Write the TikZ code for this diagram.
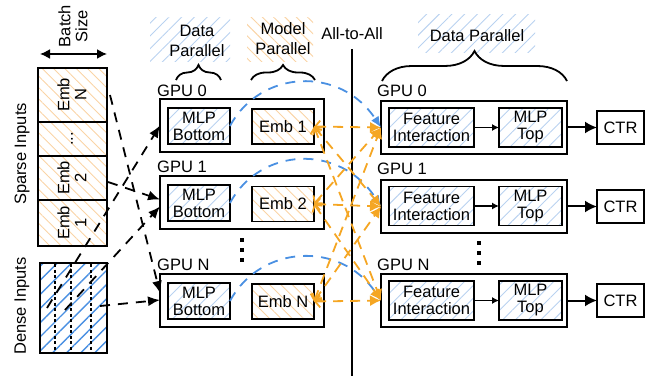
\documentclass[tikz,border=0pt]{standalone}
\usepackage{fontspec}
\setmainfont{Liberation Sans}
\usetikzlibrary{arrows.meta,patterns.meta,decorations.pathreplacing,calc}
\definecolor{hblue}{RGB}{185,210,240}
\definecolor{cblue}{RGB}{74,144,226}
\definecolor{horange}{RGB}{250,212,165}
\definecolor{corange}{RGB}{245,166,35}
\tikzset{
  box/.style={draw, line width=2pt, inner sep=0pt, outer sep=0pt},
  ibox/.style={draw, line width=1.7pt, inner sep=0pt, outer sep=0pt, align=center},
  bhatch/.style={pattern={Lines[angle=45,distance=9pt,line width=0.9pt]}, pattern color=hblue},
  ohatch/.style={pattern={Lines[angle=-45,distance=8pt,line width=0.9pt]}, pattern color=horange},
  dhatch/.style={pattern={Lines[angle=45,distance=10pt,line width=1.4pt]}, pattern color=cblue},
  lbl/.style={inner sep=0pt, anchor=base west},
  txt/.style={inner sep=0pt, align=center},
  kdash/.style={line width=1.8pt, dash pattern=on 10pt off 8pt, -{Latex[length=12pt,width=10pt]}},
  bdash/.style={cblue, line width=1.8pt, dash pattern=on 10pt off 8pt, -{Latex[length=11pt,width=9pt]}},
  odash/.style={corange, line width=1.8pt, dash pattern=on 10pt off 7pt, {Straight Barb[length=5pt,width=12pt]}-{Latex[length=11pt,width=11pt]}},
  brc/.style={line width=1.8pt, decorate},
}
\begin{document}
\begin{tikzpicture}[x=1pt,y=-1pt,font=\fontsize{16.5}{17}\selectfont]
\useasboundingbox (0,0) rectangle (651,377);

% hatched label backgrounds
\path[bhatch] (150,18) rectangle (230,62);
\path[ohatch] (247,18) rectangle (313,62);
\path[bhatch] (418,15) rectangle (535,53);

% top labels
\node[txt, font=\fontsize{16.5}{20}\selectfont] (dpL) at (197,41) {Data\\Parallel};
\node[txt, font=\fontsize{16.5}{20}\selectfont] (mpL) at (283,39) {Model\\Parallel};
\node[txt] (dpR) at (477,36) {Data Parallel};
\node[txt] (a2a) at (352,34) {All-to-All};

% braces
\draw[brc, decoration={brace, amplitude=15pt}] (176,80) -- (221,80);
\draw[brc, decoration={brace, amplitude=15pt}] (251,80) -- (315,80);
\draw[brc, decoration={brace, amplitude=30pt}] (382,81) -- (567,81);

% all-to-all divider
\coordinate (divT) at (352,49);
\coordinate (divB) at (352,376);
\draw[line width=1.6pt] (divT) -- (divB);

% batch size
\node[txt, rotate=90] (bs) at (73,26) {Batch\\Size};
\coordinate (bsL) at (40,54);
\coordinate (bsR) at (107,54);
\draw[line width=1.6pt, {Latex[length=10pt,width=10pt]}-{Latex[length=10pt,width=10pt]}] (bsL) -- (bsR);

% sparse inputs
\node[box, ohatch, minimum width=69pt, minimum height=54pt] (cN) at (72.5,95) {};
\node[box, ohatch, minimum width=69pt, minimum height=34pt] (cD) at (72.5,139) {};
\node[box, ohatch, minimum width=69pt, minimum height=44pt] (c2) at (72.5,178) {};
\node[box, ohatch, minimum width=69pt, minimum height=46pt] (c1) at (72.5,223) {};
\node[txt, rotate=90] (tN) at (72,95) {Emb\\N};
\node[txt, rotate=90] (tD) at (72,139) {...};
\node[txt, rotate=90] (t2) at (72,178) {Emb\\2};
\node[txt, rotate=90] (t1) at (72,223) {Emb\\1};
\node[txt, rotate=90] (sparse) at (22,154) {Sparse Inputs};

% dense inputs
\node[box, dhatch, minimum width=67pt, minimum height=90pt] (dense) at (73.5,308) {};
\foreach \xx in {55,71,91}
  \draw[line width=1.5pt, dash pattern=on 3pt off 2.5pt] (\xx,264) -- (\xx,352);
\node[txt, rotate=90] (denseL) at (22,306) {Dense Inputs};

% left GPUs
\node[box, minimum width=164pt, minimum height=53pt] (gL0) at (242,125.5) {};
\node[box, minimum width=164pt, minimum height=53pt] (gL1) at (242,202.5) {};
\node[box, minimum width=164pt, minimum height=53pt] (gLN) at (242,300) {};
\node[lbl] (lL0) at (157,97) {GPU 0};
\node[lbl] (lL1) at (157,173) {GPU 1};
\node[lbl] (lLN) at (157,270) {GPU N};
\node[ibox, bhatch, minimum width=62pt, minimum height=36pt] (mb0) at (199,126) {MLP\\Bottom};
\node[ibox, bhatch, minimum width=62pt, minimum height=36pt] (mb1) at (199,203) {MLP\\Bottom};
\node[ibox, bhatch, minimum width=62pt, minimum height=36pt] (mbN) at (199,301) {MLP\\Bottom};
\node[ibox, ohatch, minimum width=62pt, minimum height=35pt] (e1) at (283,126.5) {Emb 1};
\node[ibox, ohatch, minimum width=62pt, minimum height=35pt] (e2) at (283,204) {Emb 2};
\node[ibox, ohatch, minimum width=62pt, minimum height=35pt] (eN) at (283,301.5) {Emb N};
\foreach \yy in {240,250,260} \fill (240,\yy-2) rectangle (244,\yy+2);

% right GPUs
\node[box, minimum width=186pt, minimum height=53pt] (gR0) at (474,127.5) {};
\node[box, minimum width=186pt, minimum height=53pt] (gR1) at (474,206.5) {};
\node[box, minimum width=186pt, minimum height=53pt] (gRN) at (474,300.5) {};
\node[lbl] (lR0) at (377,97) {GPU 0};
\node[lbl] (lR1) at (377,175) {GPU 1};
\node[lbl] (lRN) at (377,270) {GPU N};
\node[ibox, bhatch, minimum width=85pt, minimum height=39pt] (fi0) at (431.5,127.5) {Feature\\Interaction};
\node[ibox, bhatch, minimum width=85pt, minimum height=39pt] (fi1) at (431.5,206) {Feature\\Interaction};
\node[ibox, bhatch, minimum width=85pt, minimum height=39pt] (fiN) at (431.5,300.5) {Feature\\Interaction};
\node[ibox, bhatch, minimum width=63pt, minimum height=39pt] (mt0) at (530.5,127.5) {MLP\\Top};
\node[ibox, bhatch, minimum width=63pt, minimum height=39pt] (mt1) at (530.5,206) {MLP\\Top};
\node[ibox, bhatch, minimum width=63pt, minimum height=39pt] (mtN) at (530.5,300.5) {MLP\\Top};
\node[ibox, minimum width=47pt, minimum height=33pt] (ctr0) at (620.5,127.5) {CTR};
\node[ibox, minimum width=47pt, minimum height=33pt] (ctr1) at (620.5,206.5) {CTR};
\node[ibox, minimum width=47pt, minimum height=33pt] (ctrN) at (620.5,300.5) {CTR};
\foreach \yy in {243,253,263} \fill (477,\yy-2) rectangle (481,\yy+2);

\foreach \i in {0,1,N} {
  \draw[line width=1.3pt, -{Latex[length=7pt,width=7pt]}] (fi\i) -- (mt\i);
  \draw[line width=2pt, -{Latex[length=12pt,width=12pt]}] (gR\i) -- (ctr\i);
}

% input arrows
\coordinate (s1) at (47,308);
\coordinate (s2) at (65,310);
\coordinate (s3) at (100,306);
\coordinate (s4) at ($(c2.east)+(1,4)$);
\coordinate (s5) at ($(cN.east)+(3,0)$);
\draw[kdash] (s1) -- (gL0.west);
\draw[kdash] (s2) -- ($(gL1.west)+(0,4)$);
\draw[kdash] (s4) -- ($(gL1.west)+(0,-3)$);
\draw[kdash] (s5) -- ($(gLN.west)+(0,-7)$);
\draw[kdash] (s3) -- (gLN.west);

% blue data parallel arcs
\draw[bdash] (mb0.east) .. controls (260,70) and (340,65) .. (gR0.west);
\draw[bdash] (mb1.east) .. controls (260,147) and (340,143) .. (gR1.west);
\draw[bdash] (mbN.east) .. controls (260,245) and (340,240) .. (gRN.west);

% orange all-to-all
\foreach \e in {1,2,N} {
  \foreach \g in {0,1,N} {
    \draw[odash] (e\e.east) -- (gR\g.west);
  }
}
\end{tikzpicture}
\end{document}
